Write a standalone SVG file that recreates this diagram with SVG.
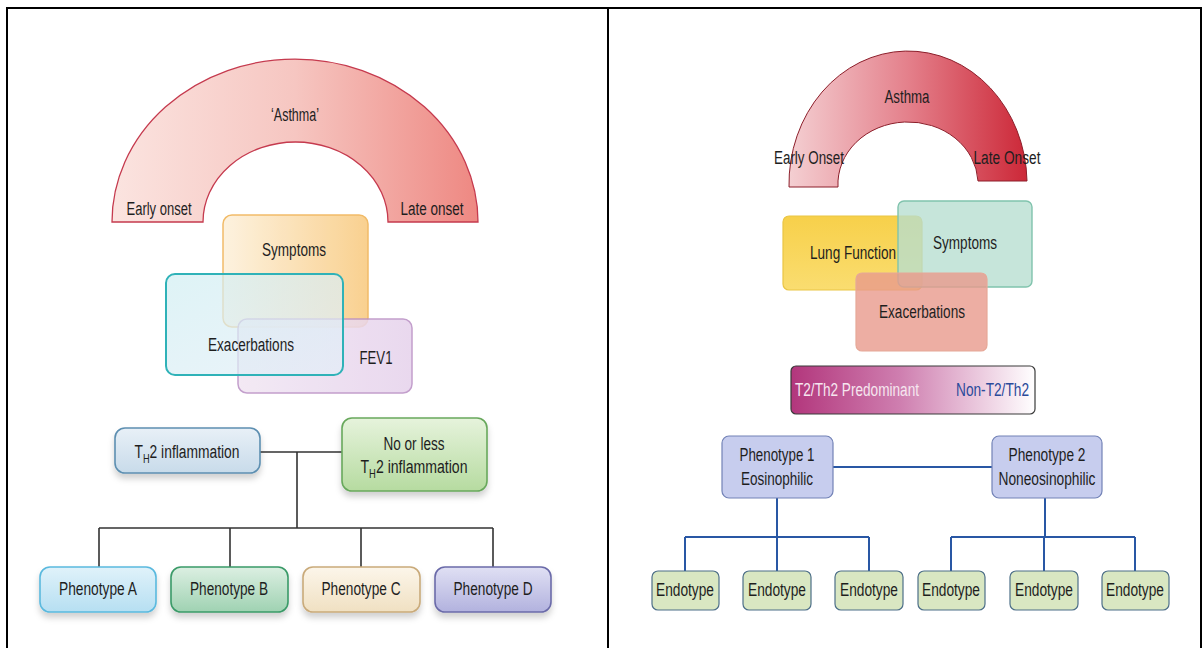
<svg xmlns="http://www.w3.org/2000/svg" width="1203" height="648" viewBox="0 0 1203 648">
<defs>
<style>
.t{font-family:"Liberation Sans",Arial,sans-serif;font-size:18px;fill:#1e1e1e;text-anchor:middle}
.conL{stroke:#333;stroke-width:1.6;fill:none}
.conR{stroke:#2957a4;stroke-width:2;fill:none}
.endo{fill:#d9e7c2;stroke:#4d6f88;stroke-width:1.2}
.phen{fill:#c7cdee;stroke:#7282b6;stroke-width:1.2}
</style>
<linearGradient id="arcL" x1="112" y1="0" x2="478" y2="0" gradientUnits="userSpaceOnUse">
<stop offset="0" stop-color="#fbe4e0"/><stop offset="0.5" stop-color="#f6c6c1"/><stop offset="1" stop-color="#ee8882"/></linearGradient>
<linearGradient id="arcR" x1="789" y1="0" x2="1027" y2="0" gradientUnits="userSpaceOnUse">
<stop offset="0" stop-color="#f4cfd2"/><stop offset="0.5" stop-color="#e4808b"/><stop offset="1" stop-color="#cc2838"/></linearGradient>
<linearGradient id="gSym" x1="0" y1="0" x2="1" y2="0"><stop offset="0" stop-color="#fdf1dc"/><stop offset="1" stop-color="#f9cc84"/></linearGradient>
<linearGradient id="gExa" x1="0" y1="0" x2="1" y2="1"><stop offset="0" stop-color="#d0eef2"/><stop offset="1" stop-color="#e4eef8"/></linearGradient>
<linearGradient id="gFev" x1="0" y1="0" x2="1" y2="0"><stop offset="0" stop-color="#f1e6f3"/><stop offset="1" stop-color="#e6d2ec"/></linearGradient>
<linearGradient id="gTh" x1="0" y1="0" x2="0" y2="1"><stop offset="0" stop-color="#e8f0f7"/><stop offset="1" stop-color="#c8dbea"/></linearGradient>
<linearGradient id="gNo" x1="0" y1="0" x2="0" y2="1"><stop offset="0" stop-color="#e6f3dc"/><stop offset="1" stop-color="#b6dba0"/></linearGradient>
<linearGradient id="gA" x1="0" y1="0" x2="0" y2="1"><stop offset="0" stop-color="#e0f2fa"/><stop offset="1" stop-color="#b6dff2"/></linearGradient>
<linearGradient id="gB" x1="0" y1="0" x2="0" y2="1"><stop offset="0" stop-color="#dcefe2"/><stop offset="1" stop-color="#9fd2b2"/></linearGradient>
<linearGradient id="gC" x1="0" y1="0" x2="0" y2="1"><stop offset="0" stop-color="#fcf6ea"/><stop offset="1" stop-color="#f0e0c2"/></linearGradient>
<linearGradient id="gD" x1="0" y1="0" x2="0" y2="1"><stop offset="0" stop-color="#e0e0f4"/><stop offset="1" stop-color="#b2b2de"/></linearGradient>
<linearGradient id="gLung" x1="0" y1="0" x2="0" y2="1"><stop offset="0" stop-color="#f7d04a"/><stop offset="1" stop-color="#fadd70"/></linearGradient>
<linearGradient id="gT2" x1="0" y1="0" x2="1" y2="0"><stop offset="0" stop-color="#b2367c"/><stop offset="0.45" stop-color="#cf7fb0"/><stop offset="1" stop-color="#ffffff"/></linearGradient>
<filter id="sh" x="-10%" y="-10%" width="120%" height="150%"><feDropShadow dx="0" dy="5" stdDeviation="3" flood-color="#000" flood-opacity="0.18"/></filter>
</defs>
<rect width="1203" height="648" fill="#fff"/>
<g id="frame" stroke="#000" stroke-width="2" fill="none">
<path d="M7,649 V8 H1201 V649"/>
<path d="M608,8 V649"/>
</g>

<g id="connectors">
<path class="conL" d="M260,452 H342 M297,452 V528 M99,528 H493 M99,528 V567 M230,528 V567 M361,528 V567 M493,528 V567"/>
<path class="conR" d="M833,467 H992 M777,498 V537 M685,537 H869 M685,537 V571 M777,537 V571 M869,537 V571 M1045,498 V537 M951,537 H1135 M951,537 V571 M1044,537 V571 M1135,537 V571"/>
</g>

<g id="arc-left">
<path d="M112,222 A183,163 0 0 1 478,222 L388,222 A92.5,80 0 0 0 203,222 Z" fill="url(#arcL)" stroke="#c53a4e" stroke-width="1.3"/>
<text class="t" x="295" y="121" textLength="48" lengthAdjust="spacingAndGlyphs">‘Asthma’</text>
<text class="t" x="159" y="215" textLength="65" lengthAdjust="spacingAndGlyphs">Early onset</text>
<text class="t" x="432" y="215" textLength="63" lengthAdjust="spacingAndGlyphs">Late onset</text>
</g>

<g id="symptoms-left">
<rect x="223" y="215" width="145" height="112" rx="9" fill="url(#gSym)" stroke="#f0b458" stroke-width="1.5" opacity="0.9"/>
<text class="t" x="294" y="256" textLength="64" lengthAdjust="spacingAndGlyphs">Symptoms</text>
</g>
<g id="fev1">
<rect x="238" y="319" width="174" height="74" rx="9" fill="url(#gFev)" stroke="#b98fc4" stroke-width="1.5" opacity="0.85"/>
<text class="t" x="376" y="364" textLength="33" lengthAdjust="spacingAndGlyphs">FEV1</text>
</g>
<g id="exacerbations-left">
<rect x="166" y="274" width="177" height="101" rx="9" fill="url(#gExa)" fill-opacity="0.7" stroke="#2fb2b8" stroke-width="2"/>
<text class="t" x="251" y="351" textLength="86" lengthAdjust="spacingAndGlyphs">Exacerbations</text>
</g>

<g id="th2">
<rect x="115" y="428" width="145" height="45" rx="10" fill="url(#gTh)" stroke="#5d8fb1" stroke-width="1.6" filter="url(#sh)"/>
<text class="t" x="187" y="458" textLength="105" lengthAdjust="spacingAndGlyphs">T<tspan font-size="12" dy="5">H</tspan><tspan dy="-5">2 inflammation</tspan></text>
</g>
<g id="no-th2">
<rect x="342" y="418" width="145" height="73" rx="10" fill="url(#gNo)" stroke="#68a85c" stroke-width="1.6" filter="url(#sh)"/>
<text class="t" x="414" y="450" textLength="61" lengthAdjust="spacingAndGlyphs">No or less</text>
<text class="t" x="414" y="473" textLength="107" lengthAdjust="spacingAndGlyphs">T<tspan font-size="12" dy="5">H</tspan><tspan dy="-5">2 inflammation</tspan></text>
</g>

<g id="phenA"><rect x="40" y="567" width="116" height="45" rx="10" fill="url(#gA)" stroke="#5ab9de" stroke-width="1.6" filter="url(#sh)"/><text class="t" x="98" y="595" textLength="78" lengthAdjust="spacingAndGlyphs">Phenotype A</text></g>
<g id="phenB"><rect x="171" y="567" width="117" height="45" rx="10" fill="url(#gB)" stroke="#3a9a68" stroke-width="1.6" filter="url(#sh)"/><text class="t" x="229" y="595" textLength="78" lengthAdjust="spacingAndGlyphs">Phenotype B</text></g>
<g id="phenC"><rect x="303" y="567" width="117" height="45" rx="10" fill="url(#gC)" stroke="#c9aa7a" stroke-width="1.6" filter="url(#sh)"/><text class="t" x="361" y="595" textLength="79" lengthAdjust="spacingAndGlyphs">Phenotype C</text></g>
<g id="phenD"><rect x="435" y="567" width="116" height="45" rx="10" fill="url(#gD)" stroke="#6b6ba9" stroke-width="1.6" filter="url(#sh)"/><text class="t" x="493" y="595" textLength="79" lengthAdjust="spacingAndGlyphs">Phenotype D</text></g>

<g id="arc-right">
<path d="M789,187 A119,133 0 0 1 1027,181 L978,181 A70,62 0 0 0 838,187 Z" fill="url(#arcR)" stroke="#8c1e2a" stroke-width="1"/>
<text class="t" x="907" y="103" textLength="45" lengthAdjust="spacingAndGlyphs">Asthma</text>
<text class="t" x="809" y="164" textLength="70" lengthAdjust="spacingAndGlyphs">Early Onset</text>
<text class="t" x="1007" y="164" textLength="67" lengthAdjust="spacingAndGlyphs">Late Onset</text>
</g>

<g id="lung-function">
<rect x="783" y="216" width="139" height="74" rx="6" fill="url(#gLung)" stroke="#eac545" stroke-width="1.2"/>
<text class="t" x="853" y="259" textLength="86" lengthAdjust="spacingAndGlyphs">Lung Function</text>
</g>
<g id="symptoms-right">
<rect x="898" y="201" width="134" height="86" rx="6" fill="#b6decf" fill-opacity="0.78" stroke="#80c3ad" stroke-width="1.4"/>
<text class="t" x="965" y="249" textLength="64" lengthAdjust="spacingAndGlyphs">Symptoms</text>
</g>
<g id="exacerbations-right">
<rect x="856" y="273" width="131" height="78" rx="6" fill="#e99a8c" fill-opacity="0.8" stroke="#e6a898" stroke-width="1.2"/>
<text class="t" x="922" y="318" textLength="86" lengthAdjust="spacingAndGlyphs">Exacerbations</text>
</g>
<g id="t2-bar">
<rect x="791" y="366" width="244" height="48" rx="5" fill="url(#gT2)" stroke="#3a3a3a" stroke-width="1.2"/>
<text class="t" x="795" y="396" textLength="124" lengthAdjust="spacingAndGlyphs" style="text-anchor:start;fill:#f6e6ef">T2/Th2 Predominant</text>
<text class="t" x="1029" y="396" textLength="73" lengthAdjust="spacingAndGlyphs" style="text-anchor:end;fill:#2b4a9a">Non-T2/Th2</text>
</g>

<g id="phenotype1"><rect class="phen" x="722" y="436" width="111" height="62" rx="7"/><text class="t" x="777" y="461" textLength="75" lengthAdjust="spacingAndGlyphs">Phenotype 1</text><text class="t" x="777" y="485" textLength="72" lengthAdjust="spacingAndGlyphs">Eosinophilic</text></g>
<g id="phenotype2"><rect class="phen" x="992" y="436" width="110" height="62" rx="7"/><text class="t" x="1047" y="461" textLength="77" lengthAdjust="spacingAndGlyphs">Phenotype 2</text><text class="t" x="1047" y="485" textLength="97" lengthAdjust="spacingAndGlyphs">Noneosinophilic</text></g>

<g id="endo1"><rect class="endo" x="652" y="571" width="67" height="39" rx="6"/><text class="t" x="685" y="596" textLength="58" lengthAdjust="spacingAndGlyphs">Endotype</text></g>
<g id="endo2"><rect class="endo" x="743" y="571" width="68" height="39" rx="6"/><text class="t" x="777" y="596" textLength="58" lengthAdjust="spacingAndGlyphs">Endotype</text></g>
<g id="endo3"><rect class="endo" x="835" y="571" width="68" height="39" rx="6"/><text class="t" x="869" y="596" textLength="58" lengthAdjust="spacingAndGlyphs">Endotype</text></g>
<g id="endo4"><rect class="endo" x="918" y="571" width="67" height="39" rx="6"/><text class="t" x="951" y="596" textLength="58" lengthAdjust="spacingAndGlyphs">Endotype</text></g>
<g id="endo5"><rect class="endo" x="1010" y="571" width="68" height="39" rx="6"/><text class="t" x="1044" y="596" textLength="58" lengthAdjust="spacingAndGlyphs">Endotype</text></g>
<g id="endo6"><rect class="endo" x="1102" y="571" width="67" height="39" rx="6"/><text class="t" x="1135" y="596" textLength="58" lengthAdjust="spacingAndGlyphs">Endotype</text></g>
</svg>
